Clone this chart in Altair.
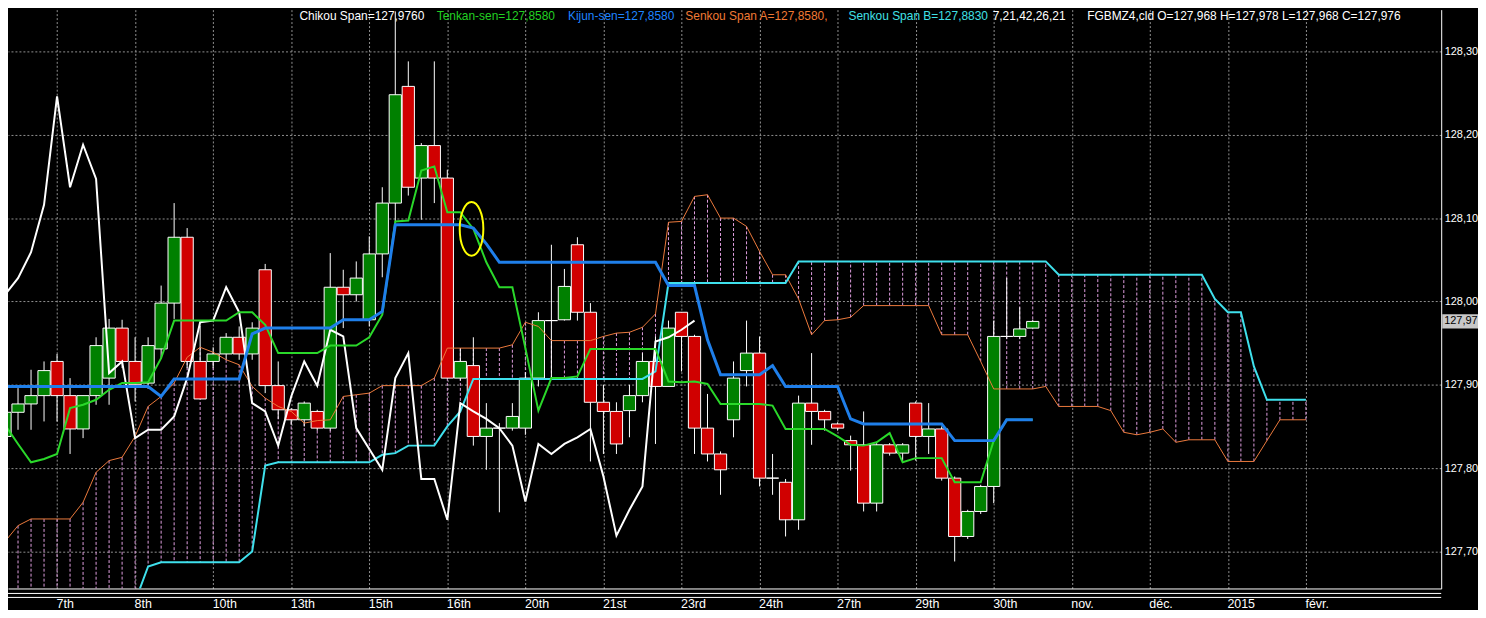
import altair as alt
import pandas as pd

# ---------------- data ----------------
# candles, bar index 0..79
bar_open = [127.838, 127.867, 127.877, 127.887, 127.928, 127.887, 127.847, 127.887, 127.908, 127.968,
            127.928, 127.902, 127.943, 127.998, 128.077, 127.928, 127.928, 127.937, 127.957, 127.937,
            128.038, 127.899, 127.870, 127.858, 127.868, 127.848, 128.017, 128.008, 127.978, 128.057,
            128.118, 128.258, 128.148, 128.187, 128.148, 127.908, 127.923, 127.838, 127.848, 127.848,
            127.848, 127.908, 127.977, 127.978, 128.068, 127.987, 127.879, 127.868, 127.869, 127.887,
            127.928, 127.898, 127.987, 127.958, 127.848, 127.817, 127.858, 127.917, 127.938, 127.788,
            127.783, 127.738, 127.878, 127.868, 127.853, 127.833, 127.828, 127.758, 127.828, 127.818,
            127.878, 127.838, 127.847, 127.788, 127.718, 127.748, 127.778, 127.958, 127.958, 127.968]
bar_high = [127.874, 127.896, 127.918, 127.928, 127.937, 127.908, 127.887, 127.957, 127.979, 127.978,
            127.957, 127.957, 128.019, 128.118, 128.088, 127.971, 127.945, 127.962, 127.970, 127.975,
            128.045, 127.928, 127.872, 127.880, 127.870, 128.058, 128.038, 128.048, 128.078, 128.137,
            128.348, 128.288, 128.190, 128.288, 128.158, 127.944, 127.957, 127.878, 127.854, 127.878,
            127.915, 127.987, 128.068, 128.039, 128.077, 127.998, 127.900, 127.879, 127.900, 127.938,
            127.958, 127.977, 127.987, 127.960, 127.889, 127.820, 127.928, 127.977, 127.958, 127.817,
            127.787, 127.887, 127.938, 127.870, 127.855, 127.839, 127.868, 127.830, 127.830, 127.830,
            127.880, 127.878, 127.850, 127.790, 127.750, 127.780, 127.977, 128.028, 127.993, 127.978]
bar_low = [127.817, 127.846, 127.846, 127.856, 127.856, 127.817, 127.836, 127.876, 127.876, 127.920,
           127.880, 127.895, 127.932, 127.979, 127.920, 127.883, 127.920, 127.930, 127.930, 127.930,
           127.890, 127.859, 127.852, 127.850, 127.845, 127.845, 127.968, 128.000, 127.970, 128.029,
           128.096, 128.127, 128.098, 128.118, 127.908, 127.905, 127.827, 127.798, 127.747, 127.845,
           127.840, 127.898, 127.908, 127.977, 127.977, 127.808, 127.817, 127.817, 127.837, 127.879,
           127.829, 127.898, 127.916, 127.817, 127.808, 127.768, 127.837, 127.898, 127.778, 127.768,
           127.718, 127.726, 127.828, 127.845, 127.845, 127.797, 127.748, 127.748, 127.815, 127.807,
           127.809, 127.817, 127.785, 127.688, 127.715, 127.745, 127.758, 127.955, 127.955, 127.968]
bar_close = [127.867, 127.877, 127.887, 127.917, 127.887, 127.847, 127.887, 127.947, 127.968, 127.928,
             127.900, 127.947, 127.998, 128.077, 127.928, 127.883, 127.937, 127.957, 127.937, 127.968,
             127.899, 127.870, 127.858, 127.878, 127.848, 128.017, 128.008, 128.028, 128.057, 128.118,
             128.248, 128.137, 128.187, 128.148, 127.908, 127.928, 127.838, 127.848, 127.848, 127.862,
             127.908, 127.977, 127.977, 128.018, 127.987, 127.879, 127.868, 127.829, 127.887, 127.928,
             127.898, 127.968, 127.958, 127.848, 127.817, 127.798, 127.908, 127.938, 127.788, 127.788,
             127.738, 127.878, 127.868, 127.858, 127.848, 127.828, 127.758, 127.828, 127.818, 127.828,
             127.838, 127.847, 127.788, 127.718, 127.748, 127.778, 127.958, 127.958, 127.967, 127.976]

# Tenkan-sen, bar index -1..79
tenkan = [127.884,
          127.852, 127.829, 127.807, 127.811, 127.817, 127.872, 127.876, 127.882, 127.894, 127.902,
          127.902, 127.903, 127.932, 127.977, 127.977, 127.977, 127.977, 127.977, 127.987, 127.987,
          127.972, 127.938, 127.938, 127.938, 127.938, 127.947, 127.947, 127.947, 127.957, 127.984,
          128.096, 128.097, 128.157, 128.162, 128.107, 128.107, 128.087, 128.047, 128.017, 128.017,
          127.944, 127.869, 127.908, 127.908, 127.910, 127.943, 127.943, 127.943, 127.943, 127.943,
          127.943, 127.904, 127.903, 127.904, 127.901, 127.877, 127.877, 127.877, 127.877, 127.875,
          127.847, 127.847, 127.847, 127.847, 127.838, 127.828, 127.827, 127.831, 127.842, 127.807,
          127.812, 127.812, 127.812, 127.783, 127.783, 127.783, 127.833, 127.858, 127.858, 127.858]
# Kijun-sen, bar index -1..79
kijun = [127.898,
         127.898, 127.898, 127.898, 127.898, 127.898, 127.898, 127.898, 127.898, 127.898, 127.898,
         127.898, 127.898, 127.886, 127.907, 127.907, 127.907, 127.907, 127.907, 127.907, 127.961,
         127.968, 127.968, 127.968, 127.968, 127.968, 127.968, 127.978, 127.978, 127.978, 127.988,
         128.092, 128.092, 128.092, 128.092, 128.092, 128.092, 128.088, 128.069, 128.047, 128.047,
         128.047, 128.047, 128.047, 128.047, 128.047, 128.047, 128.047, 128.047, 128.047, 128.047,
         128.047, 128.019, 128.019, 128.019, 127.954, 127.912, 127.912, 127.912, 127.912, 127.923,
         127.898, 127.898, 127.898, 127.898, 127.898, 127.859, 127.853, 127.853, 127.853, 127.853,
         127.853, 127.853, 127.853, 127.833, 127.833, 127.833, 127.833, 127.858, 127.858, 127.858]
# Senkou Span A, bar index -1..100
senkou_a = [127.691,
            127.712, 127.731, 127.739, 127.739, 127.739, 127.739, 127.759, 127.795, 127.809, 127.813,
            127.838, 127.874, 127.886, 127.902, 127.933, 127.945, 127.939, 127.930, 127.924, 127.898,
            127.884, 127.874, 127.868, 127.854, 127.857, 127.858, 127.886, 127.888, 127.890, 127.899,
            127.899, 127.899, 127.899, 127.908, 127.944, 127.944, 127.944, 127.944, 127.944, 127.948,
            127.975, 127.970, 127.953, 127.953, 127.953, 127.953, 127.958, 127.962, 127.963, 127.969,
            127.985, 128.095, 128.096, 128.126, 128.128, 128.100, 128.100, 128.090, 128.060, 128.032,
            128.032, 128.003, 127.960, 127.977, 127.978, 127.981, 127.995, 127.995, 127.995, 127.995,
            127.995, 127.995, 127.960, 127.960, 127.960, 127.928, 127.895, 127.895, 127.895, 127.895,
            127.898, 127.874, 127.874, 127.874, 127.874, 127.869, 127.843, 127.840, 127.843, 127.847,
            127.831, 127.834, 127.834, 127.834, 127.808, 127.808, 127.808, 127.833, 127.858, 127.858,
            127.858]
# Senkou Span B, bar index -1..100 (first values lie below the visible range)
senkou_b = [127.640,
            127.640, 127.640, 127.640, 127.640, 127.640, 127.640, 127.640, 127.640, 127.640, 127.640,
            127.640, 127.682, 127.687, 127.687, 127.687, 127.687, 127.687, 127.687, 127.687, 127.700,
            127.803, 127.807, 127.807, 127.807, 127.807, 127.807, 127.807, 127.807, 127.807, 127.816,
            127.818, 127.827, 127.827, 127.827, 127.850, 127.868, 127.907, 127.907, 127.907, 127.907,
            127.907, 127.907, 127.907, 127.907, 127.907, 127.907, 127.907, 127.907, 127.907, 127.907,
            127.916, 128.022, 128.022, 128.022, 128.022, 128.022, 128.022, 128.022, 128.022, 128.022,
            128.022, 128.048, 128.048, 128.048, 128.048, 128.048, 128.048, 128.048, 128.048, 128.048,
            128.048, 128.048, 128.048, 128.048, 128.048, 128.048, 128.048, 128.048, 128.048, 128.048,
            128.048, 128.032, 128.032, 128.032, 128.032, 128.032, 128.032, 128.032, 128.032, 128.032,
            128.032, 128.032, 128.032, 128.003, 127.987, 127.987, 127.922, 127.882, 127.882, 127.882,
            127.882]
# Chikou Span, bar index -1..53
chikou = [128.017,
          128.008, 128.028, 128.059, 128.116, 128.246, 128.137, 128.188, 128.147, 127.914, 127.928,
          127.836, 127.846, 127.846, 127.862, 127.908, 127.975, 127.977, 128.017, 127.987, 127.878,
          127.868, 127.827, 127.886, 127.928, 127.899, 127.966, 127.958, 127.848, 127.823, 127.798,
          127.908, 127.938, 127.787, 127.787, 127.738, 127.878, 127.868, 127.859, 127.848, 127.827,
          127.760, 127.829, 127.817, 127.829, 127.837, 127.847, 127.790, 127.719, 127.750, 127.778,
          127.952, 127.957, 127.966, 127.977]

x_tick_pos = [4, 10, 16, 22, 28, 34, 40, 46, 52, 58, 64, 70, 76, 82, 88, 94, 100]
x_tick_labels = ["7th", "8th", "10th", "13th", "15th", "16th", "20th", "21st", "23rd",
                 "24th", "27th", "29th", "30th", "nov.", "déc.", "2015", "févr."]
y_ticks = [127.70, 127.80, 127.90, 128.00, 128.10, 128.20, 128.30]
last_price = [127.976]
last_price_text = ["127,97"]
circle_mark = {"k": [35.86], "p": [128.087]}

legend_texts = ["Chikou Span=127,9760", "Tenkan-sen=127,8580", "Kijun-sen=127,8580",
                "Senkou Span A=127,8580,", "Senkou Span B=127,8830", "7,21,42,26,21",
                "FGBMZ4,cld O=127,968 H=127,978 L=127,968 C=127,976"]

# ---------------- layout / style ----------------
LEGEND_X = [293, 431, 563, 681, 845, 990, 1085]
LEGEND_COL = ["#ffffff", "#22d022", "#1e84ff", "#f07a34", "#40e0e6", "#ffffff", "#ffffff"]
PLOT_W, PLOT_H = 1441, 582
X_DOMAIN = [0.2294, 110.398]
Y_DOMAIN = [127.6556, 128.3501]
FONT = "Liberation Sans, Arial, sans-serif"
GRID = "#909090"
HATCH = "#e09ee0"
UP, DOWN = "#008000", "#d00000"

xs = alt.Scale(domain=X_DOMAIN, nice=False, zero=False)
ys = alt.Scale(domain=Y_DOMAIN, nice=False, zero=False)

# label lookup written as a chain of conditionals
label_expr = ""
for pos, lab in zip(x_tick_pos, x_tick_labels):
    label_expr += f"datum.value == {pos} ? '{lab}' : "
label_expr += "''"

x_axis = alt.Axis(values=x_tick_pos, labelExpr=label_expr, title=None, grid=True,
                  gridColor=GRID, gridDash=[2, 2], gridWidth=1, ticks=False,
                  domain=True, domainColor="#ffffff", domainWidth=1,
                  labelColor="#ffffff", labelFont=FONT, labelFontSize=12.5, labelAlign="left",
                  labelBaseline="alphabetic", labelPadding=19, labelOffset=-1,
                  labelOverlap=False, labelFlush=False)
y_axis = alt.Axis(orient="right", values=y_ticks,
                  labelExpr="replace(format(datum.value, '.2f'), '.', ',')",
                  title=None, grid=True, gridColor=GRID, gridDash=[2, 2], gridWidth=1,
                  ticks=False, domain=True, domainColor="#ffffff", domainWidth=1,
                  labelColor="#ffffff", labelFont=FONT, labelFontSize=11, labelPadding=3,
                  labelAlign="left", labelBaseline="middle", labelOverlap=False,
                  labelFlush=False)


def X(f):
    return alt.X(f, type="quantitative", scale=xs, axis=x_axis)


def Y(f):
    return alt.Y(f, type="quantitative", scale=ys, axis=y_axis)


# ---------------- tables ----------------
bars = pd.DataFrame({"k": list(range(len(bar_open))), "open": bar_open, "high": bar_high,
                     "low": bar_low, "close": bar_close})


def series_df(vals, start):
    return pd.DataFrame({"k": [start + i for i in range(len(vals))], "v": vals})


hatch_df = pd.DataFrame({"k": [-1 + i for i in range(len(senkou_a))], "a": senkou_a, "b": senkou_b})

layers = []

# cloud hatch
layers.append(
    alt.Chart(hatch_df).mark_rule(color=HATCH, strokeWidth=1, strokeDash=[3, 2], clip=True).encode(
        x=X("k"), y=Y("a"), y2="b:Q"
    )
)

# wicks
layers.append(
    alt.Chart(bars).mark_rule(color="#ffffff", strokeWidth=1, clip=True).encode(
        x=X("k"), y=Y("low"), y2="high:Q"
    )
)

# bodies
layers.append(
    alt.Chart(bars)
    .transform_calculate(xl="datum.k - 0.47", xr="datum.k + 0.47")
    .mark_rect(stroke="#ffffff", strokeWidth=1, clip=True)
    .encode(
        x=X("xl"), x2="xr:Q", y=Y("open"), y2="close:Q",
        fill=alt.condition("datum.close >= datum.open", alt.value(UP), alt.value(DOWN)),
    )
)

line_specs = [
    (senkou_a, -1, "#ec7a3c", 1),
    (senkou_b, -1, "#3fe0ec", 2),
    (chikou, -1, "#ffffff", 2),
    (tenkan, -1, "#2ad82a", 2),
    (kijun, -1, "#1f7fea", 3),
]
for vals, start, col, w in line_specs:
    layers.append(
        alt.Chart(series_df(vals, start)).mark_line(color=col, strokeWidth=w, clip=True).encode(
            x=X("k"), y=Y("v")
        )
    )

# yellow ellipse annotation
ELLIPSE = "M0,-1A0.44,1,0,1,1,0,1A0.44,1,0,1,1,0,-1Z"
layers.append(
    alt.Chart(pd.DataFrame(circle_mark)).mark_point(
        shape=ELLIPSE, size=2916, filled=False, color="#ffff00", strokeWidth=2, opacity=1
    ).encode(x=X("k"), y=Y("p"))
)

# last price tag on the price scale
TAG = "M-1,-0.4L1,-0.4L1,0.4L-1,0.4Z"
tag_df = pd.DataFrame({"p": last_price, "t": last_price_text})
layers.append(
    alt.Chart(tag_df).mark_point(shape=TAG, size=1296, filled=True, color="#c8c8c8",
                                 opacity=1, x=PLOT_W + 19).encode(y=Y("p"))
)
layers.append(
    alt.Chart(tag_df).mark_text(align="left", baseline="middle", color="#000000",
                                fontSize=11, font=FONT, x=PLOT_W + 3).encode(y=Y("p"), text="t:N")
)

# header legend
for txt, px, col in zip(legend_texts, LEGEND_X, LEGEND_COL):
    layers.append(
        alt.Chart(pd.DataFrame({"t": [txt]})).mark_text(
            align="left", baseline="alphabetic", x=px, y=10, color=col, fontSize=12, font=FONT
        ).encode(text="t:N")
    )

# double separator lines under the plot
for yy in (587, 591):
    layers.append(
        alt.Chart(pd.DataFrame({"d": [0]})).mark_rule(color="#ffffff", strokeWidth=1).encode(
            x=alt.value(0), x2=alt.value(PLOT_W), y=alt.value(yy)
        )
    )

chart = (
    alt.layer(*layers)
    .properties(
        width=PLOT_W,
        height=PLOT_H,
        padding={"left": 0, "top": 0, "right": 37, "bottom": 20},
        autosize=alt.AutoSizeParams(type="none"),
        background="#000000",
    )
    .configure_view(stroke=None)
)

chart.save("out.html", embed_options={"renderer": "svg", "actions": False})
